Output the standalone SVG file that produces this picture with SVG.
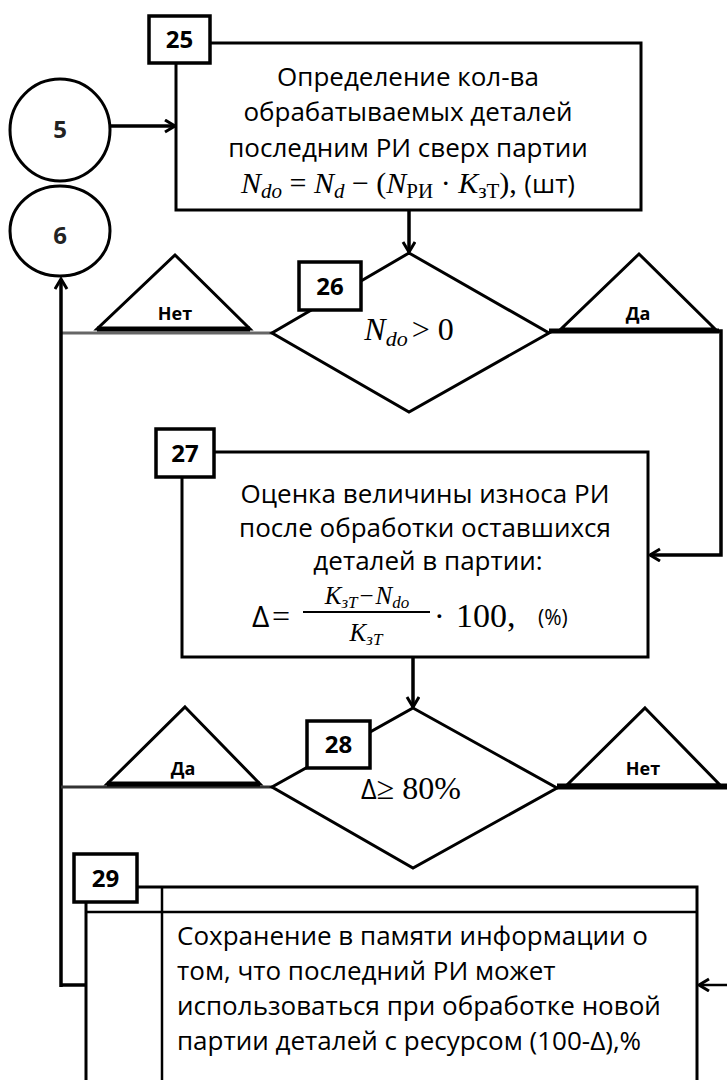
<svg xmlns="http://www.w3.org/2000/svg" width="727" height="1080" viewBox="0 0 727 1080">
<defs>
<style>
.box{fill:#fff;stroke:#000;stroke-width:3}
.lbl{fill:#fff;stroke:#000;stroke-width:3.5}
.num{font-family:"Open Sans","Liberation Sans",sans-serif;font-weight:bold;font-size:24px;text-anchor:middle}
.t{font-family:"Open Sans","Liberation Sans",sans-serif;font-size:26px;fill:#000}
.c{text-anchor:middle}
.m{font-family:"Liberation Serif","DejaVu Serif",serif;fill:#000}
.i{font-style:italic}
.sans{font-family:"Open Sans","Liberation Sans",sans-serif}
.tri{fill:#fff;stroke:#000;stroke-width:3}
.base{stroke:#000;stroke-width:5}
.yn{font-family:"Open Sans","Liberation Sans",sans-serif;font-weight:bold;font-size:18px;text-anchor:middle}
.ln{fill:none;stroke:#000;stroke-width:3.5}
.thin{fill:none;stroke:#000;stroke-width:2.5}
</style>
<marker id="ah" markerUnits="userSpaceOnUse" markerWidth="16" markerHeight="16" refX="11" refY="7" orient="auto">
<path d="M1,1 L11,7 L1,13" fill="none" stroke="#000" stroke-width="3"/>
</marker>
</defs>
<rect width="727" height="1080" fill="#fff"/>

<g id="connectors">
<line class="ln" x1="111" y1="126" x2="175" y2="126" marker-end="url(#ah)"/>
<line class="ln" x1="409" y1="210" x2="409" y2="252" marker-end="url(#ah)"/>
<line x1="272" y1="333" x2="61" y2="333" stroke="#666" stroke-width="3"/>
<line class="ln" x1="61" y1="987" x2="61" y2="279" marker-end="url(#ah)"/>
<polyline class="ln" points="549,331 721,331 721,555 650,555" marker-end="url(#ah)"/>
<line class="ln" x1="413" y1="657" x2="413" y2="707" marker-end="url(#ah)"/>
<line x1="272" y1="787" x2="61" y2="787" stroke="#333" stroke-width="3"/>
<line x1="557" y1="787" x2="727" y2="787" stroke="#000" stroke-width="5"/>
<line class="thin" x1="727" y1="985" x2="699" y2="985" marker-end="url(#ah)"/>
<line class="ln" x1="86" y1="985" x2="61" y2="985"/>
</g>

<g id="c5">
<ellipse class="box" cx="60" cy="130" rx="50" ry="51"/>
<text class="num" x="60" y="138" font-size="30" fill="#222">5</text>
</g>
<g id="c6">
<ellipse class="box" cx="60" cy="231" rx="50" ry="45"/>
<text class="num" x="60" y="244" font-size="30" fill="#222">6</text>
</g>

<g id="n25">
<rect class="box" x="176" y="43" width="465" height="167"/>
<rect class="lbl" x="149" y="16" width="61" height="47"/>
<text class="num" x="179.5" y="48">25</text>
<text class="t c" x="408" y="86">Определение кол-ва</text>
<text class="t c" x="408" y="121">обрабатываемых деталей</text>
<text class="t c" x="408" y="157">последним РИ сверх партии</text>
<text class="m c" x="408" y="193" font-size="30"><tspan class="i">N</tspan><tspan class="i" font-size="21" dy="5">do</tspan><tspan dy="-5"> = </tspan><tspan class="i">N</tspan><tspan class="i" font-size="21" dy="5">d</tspan><tspan dy="-5"> − (</tspan><tspan class="i">N</tspan><tspan font-size="21" dy="5">РИ</tspan><tspan dy="-5"> · </tspan><tspan class="i">K</tspan><tspan font-size="21" dy="5">зТ</tspan><tspan dy="-5">), </tspan><tspan class="sans" font-size="26">(шт)</tspan></text>
</g>

<g id="n26">
<polygon class="box" points="409,253 549,333 409,412 272,333"/>
<rect class="lbl" x="299" y="262" width="62" height="48"/>
<text class="num" x="330" y="295">26</text>
<text class="m c" x="409" y="340" font-size="32"><tspan class="i">N</tspan><tspan class="i" font-size="22" dy="6">do</tspan><tspan dy="-6" dx="4">&gt; 0</tspan></text>
</g>

<g id="b26no">
<polygon class="tri" points="175,255 250,329 97,329"/>
<line class="base" x1="97" y1="329" x2="250" y2="329"/>
<text class="yn" x="175" y="320">Нет</text>
</g>
<g id="b26yes">
<polygon class="tri" points="639,254 715,329 561,329"/>
<line class="base" x1="549" y1="331" x2="719" y2="331"/>
<text class="yn" x="638" y="320">Да</text>
</g>

<g id="n27">
<rect class="box" x="182" y="452" width="466" height="205"/>
<rect class="lbl" x="156" y="429" width="58" height="48"/>
<text class="num" x="185" y="462">27</text>
<text class="t c" x="425" y="503">Оценка величины износа РИ</text>
<text class="t c" x="425" y="537">после обработки оставшихся</text>
<text class="t c" x="428" y="570">деталей в партии:</text>
<text class="sans" x="252" y="627" font-size="30">Δ</text>
<text class="m" x="272" y="627" font-size="32">=</text>
<text class="m c" x="367" y="604" font-size="25"><tspan class="i">K</tspan><tspan class="i" font-size="17" dy="4">зT</tspan><tspan dy="-4" dx="2">−</tspan><tspan class="i" dx="2">N</tspan><tspan class="i" font-size="17" dy="4">do</tspan></text>
<line x1="303" y1="612" x2="430" y2="612" stroke="#000" stroke-width="2"/>
<text class="m c" x="366" y="641" font-size="25"><tspan class="i">K</tspan><tspan class="i" font-size="17" dy="4">зT</tspan></text>
<text class="m" x="434" y="627" font-size="32">·</text>
<text class="m" x="456" y="627" font-size="34">100,</text>
<text class="sans" x="538" y="625" font-size="21">(%)</text>
</g>

<g id="n28">
<polygon class="box" points="413,708 557,788 413,868 272,787"/>
<rect class="lbl" x="307" y="721" width="63" height="47"/>
<text class="num" x="338.5" y="753">28</text>
<text class="m c" x="411" y="799" font-size="32"><tspan class="sans" font-size="27">Δ</tspan>≥ 80%</text>
</g>

<g id="b28yes">
<polygon class="tri" points="185,707 260,784 107,784"/>
<line class="base" x1="107" y1="784" x2="260" y2="784"/>
<text class="yn" x="183" y="775">Да</text>
</g>
<g id="b28no">
<polygon class="tri" points="645,708 720,785 567,785"/>
<line class="base" x1="557" y1="786" x2="727" y2="786"/>
<text class="yn" x="643" y="775">Нет</text>
</g>

<g id="n29">
<rect class="box" x="86" y="887" width="611" height="220"/>
<line x1="86" y1="912" x2="697" y2="912" stroke="#000" stroke-width="2.5"/>
<line x1="162" y1="887" x2="162" y2="1080" stroke="#000" stroke-width="2.5"/>
<rect class="lbl" x="74" y="854" width="63" height="48"/>
<text class="num" x="105.5" y="887">29</text>
<text class="t" x="177" y="945">Сохранение в памяти информации о</text>
<text class="t" x="177" y="980">том, что последний РИ может</text>
<text class="t" x="177" y="1015">использоваться при обработке новой</text>
<text class="t" x="177" y="1050">партии деталей с ресурсом (100-Δ),%</text>
</g>
</svg>
